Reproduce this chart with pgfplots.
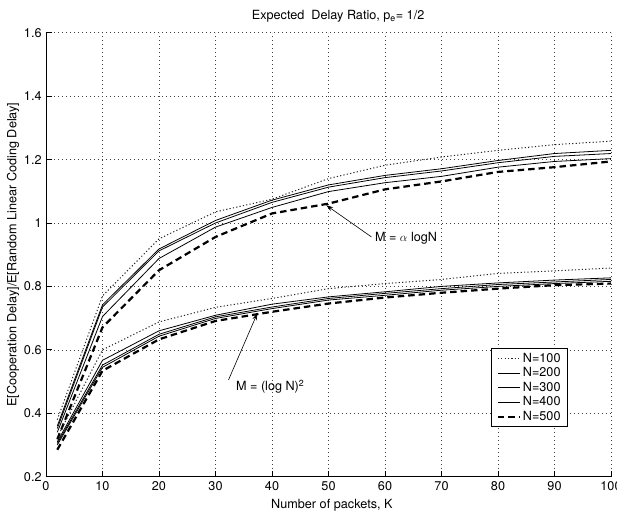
\documentclass[border=0pt]{standalone}
\usepackage{fontspec}
\setmainfont{TeX Gyre Heros}
\usepackage{pgfplots}
\pgfplotsset{compat=1.18}
\usetikzlibrary{arrows.meta}

\pgfplotsset{
  ndot/.style={black!85, line width=1bp, dash pattern=on 1.2bp off 2.2bp},
  nsolid/.style={black, line width=0.8bp, solid},
  ndash/.style={black, line width=2.2bp, dash pattern=on 6.5bp off 4bp},
}

\begin{document}
\fontsize{12.7}{15.2}\selectfont
\begin{tikzpicture}
\useasboundingbox (-46bp,-37.3bp) rectangle (571bp,476.7bp);
\begin{axis}[
  at={(0,0)}, anchor=south west,
  scale only axis, width=565bp, height=444bp,
  xmin=0, xmax=100, ymin=0.2, ymax=1.6,
  xtick={0,10,20,30,40,50,60,70,80,90,100},
  ytick={0.2,0.4,0.6,0.8,1,1.2,1.4,1.6},
  axis x line*=bottom, axis y line*=left,
  axis line style={black, line width=0.8bp, -},
  tick align=inside, major tick length=6bp,
  tick style={black, line width=0.8bp},
  grid=major,
  grid style={black!75, line width=0.6bp, dash pattern=on 0.8bp off 3.2bp},
  /pgf/number format/assume math mode=true,
  clip=false,
  xlabel={Number of packets, K},
  ylabel={E[Cooperation Delay]/E[Random Linear Coding Delay]},
  every axis x label/.style={at={(axis description cs:0.506,-0.0637)}, anchor=center},
  every axis y label/.style={at={(axis description cs:-0.0584,0.5)}, rotate=90, anchor=center},
  legend style={at={(axis description cs:0.924,0.112)}, anchor=south east,
    draw=black, line width=1bp, fill=white, inner xsep=5bp, inner ysep=2bp, row sep=-0.5bp,
    font=\fontsize{12.7}{15.2}\selectfont},
  legend cell align=left,
  legend image code/.code={\draw[#1] (0bp,0bp) -- (22bp,0bp);},
]
% upper group: M = alpha log N
\addplot[ndot] coordinates {(2,0.38) (10,0.77) (20,0.95) (30,1.035) (40,1.075) (50,1.14) (60,1.182) (70,1.208) (80,1.229) (90,1.247) (100,1.258)};
\addlegendentry{N=100}
\addplot[nsolid] coordinates {(2,0.36) (10,0.742) (20,0.918) (30,1.008) (40,1.072) (50,1.12) (60,1.15) (70,1.171) (80,1.197) (90,1.219) (100,1.229)};
\addlegendentry{N=200}
\addplot[nsolid] coordinates {(2,0.352) (10,0.735) (20,0.912) (30,1.0) (40,1.065) (50,1.113) (60,1.143) (70,1.164) (80,1.19) (90,1.21) (100,1.219)};
\addlegendentry{N=300}
\addplot[nsolid] coordinates {(2,0.34) (10,0.705) (20,0.888) (30,0.987) (40,1.049) (50,1.099) (60,1.127) (70,1.147) (80,1.176) (90,1.194) (100,1.203)};
\addlegendentry{N=400}
\addplot[ndash] coordinates {(2,0.318) (10,0.671) (20,0.851) (30,0.956) (40,1.03) (50,1.061) (60,1.106) (70,1.131) (80,1.161) (90,1.176) (100,1.194)};
\addlegendentry{N=500}
% lower group: M = (log N)^2
\addplot[ndot, forget plot] coordinates {(2,0.325) (10,0.60) (20,0.688) (30,0.734) (40,0.762) (50,0.793) (60,0.809) (70,0.822) (80,0.841) (90,0.849) (100,0.858)};
\addplot[nsolid, forget plot] coordinates {(2,0.31) (10,0.567) (20,0.66) (30,0.709) (40,0.744) (50,0.767) (60,0.783) (70,0.80) (80,0.811) (90,0.82) (100,0.827)};
\addplot[nsolid, forget plot] coordinates {(2,0.305) (10,0.552) (20,0.649) (30,0.704) (40,0.735) (50,0.762) (60,0.778) (70,0.793) (80,0.806) (90,0.814) (100,0.822)};
\addplot[nsolid, forget plot] coordinates {(2,0.30) (10,0.545) (20,0.643) (30,0.699) (40,0.73) (50,0.757) (60,0.772) (70,0.788) (80,0.80) (90,0.809) (100,0.816)};
\addplot[ndash, forget plot] coordinates {(2,0.285) (10,0.534) (20,0.633) (30,0.691) (40,0.72) (50,0.746) (60,0.765) (70,0.78) (80,0.793) (90,0.804) (100,0.809)};

% annotations
\node[anchor=west, inner sep=0pt] at (axis cs:58.2,0.952) {M = $\alpha$ logN};
\draw[black, line width=0.6bp, -{Stealth[length=7bp,width=4.5bp]}] (axis cs:57.6,0.956) -- (axis cs:49.6,1.056);
\node[anchor=west, inner sep=0pt] at (axis cs:33.6,0.483) {M = (log N)\textsuperscript{2}};
\draw[black, line width=0.6bp, -{Stealth[length=7bp,width=4.5bp]}] (axis cs:32.3,0.505) -- (axis cs:37.4,0.715);
% title
\node[anchor=center] at (axis description cs:0.517,1) [yshift=16.7bp] {Expected\ \ Delay Ratio, p\textsubscript{e}= 1/2};
\end{axis}
\end{tikzpicture}
\end{document}
